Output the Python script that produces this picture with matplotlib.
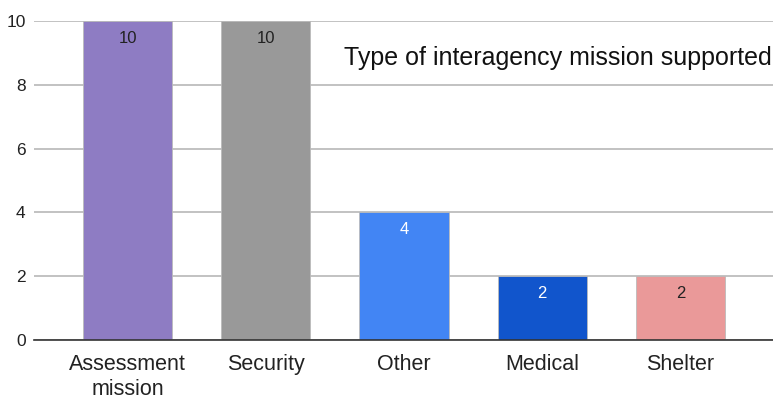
import matplotlib
matplotlib.use("Agg")
import matplotlib.pyplot as plt
import numpy as np

plt.rcParams['font.family'] = ['Liberation Sans', 'DejaVu Sans']

categories = ['Assessment\nmission', 'Security', 'Other', 'Medical', 'Shelter']
counts = [10, 10, 4, 2, 2]
bar_colors = ['#8e7cc3', '#999999', '#4285f4', '#1155cc', '#ea9999']
label_colors = ['#222222', '#222222', '#ffffff', '#ffffff', '#222222']

fig = plt.figure(figsize=(7.73, 3.99), dpi=100)
ax = fig.add_axes([0.044, 0.148, 0.956, 0.799])

x = np.arange(len(categories))
bars = ax.bar(x, counts, width=0.645, color=bar_colors, edgecolor='#bbbbbb',
              linewidth=0.6, zorder=3)

# value labels inside the top of each bar
for b, val, lc in zip(bars, counts, label_colors):
    ax.text(b.get_x() + b.get_width() / 2, val - 0.55, str(val), ha='center',
            va='center', fontsize=12, color=lc, zorder=4)

ax.set_xlim(-0.678, 4.67)
ax.set_ylim(0, 10)
ax.set_yticks([0, 2, 4, 6, 8, 10])
ax.set_xticks(x)
ax.set_xticklabels(categories, fontsize=15.5, color='#222222', linespacing=1.24)
ax.tick_params(axis='y', labelsize=12.5, colors='#222222', length=0, pad=6)
ax.tick_params(axis='x', length=0, pad=10)
ax.grid(axis='y', color='#bdbdbd', linewidth=1.3, zorder=0)
for s in ['top', 'right', 'left']:
    ax.spines[s].set_visible(False)
ax.spines['bottom'].set_color('#333333')
ax.spines['bottom'].set_linewidth(1.2)
ax.spines['bottom'].set_zorder(5)

ax.text(0.998, 0.885, 'Type of interagency mission supported', transform=ax.transAxes,
        ha='right', va='center', fontsize=18, color='#111111',
        bbox=dict(facecolor='white', edgecolor='none', pad=2), zorder=6)

fig.savefig('out.png', dpi=100)
